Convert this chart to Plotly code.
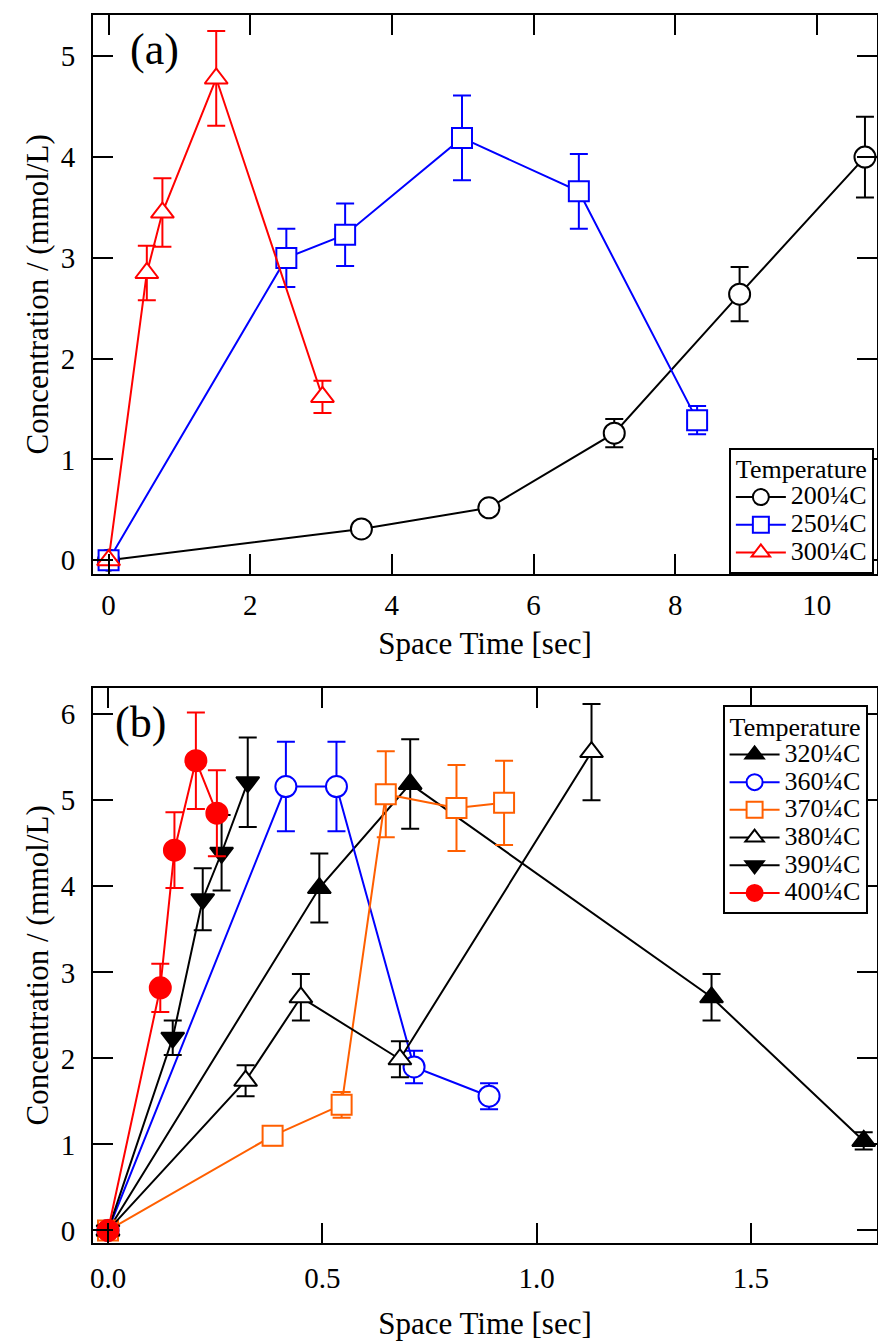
import plotly.graph_objects as go

# ---------------- data: panel (a) ----------------
x200 = [0.0, 3.57, 5.37, 7.14, 8.91, 10.68]
y200 = [0.0, 0.31, 0.52, 1.26, 2.64, 4.00]
e200 = [None, 0.03, 0.04, 0.14, 0.27, 0.40]

x250 = [0.0, 2.51, 3.34, 4.99, 6.64, 8.31]
y250 = [0.0, 3.00, 3.23, 4.19, 3.66, 1.39]
e250 = [None, 0.29, 0.31, 0.42, 0.37, 0.14]

x300 = [0.0, 0.54, 0.76, 1.52, 3.02]
y300 = [0.0, 2.85, 3.45, 4.78, 1.62]
e300 = [None, 0.27, 0.34, 0.47, 0.16]

# ---------------- data: panel (b) ----------------
x320 = [0.0, 0.493, 0.705, 1.408, 1.763]
y320 = [0.0, 3.98, 5.19, 2.71, 1.04]
e320 = [None, 0.40, 0.52, 0.27, 0.10]

x360 = [0.0, 0.415, 0.533, 0.714, 0.889]
y360 = [0.0, 5.16, 5.16, 1.90, 1.56]
e360 = [None, 0.52, 0.52, 0.19, 0.15]

x370 = [0.0, 0.384, 0.545, 0.648, 0.813, 0.924]
y370 = [0.0, 1.10, 1.46, 5.07, 4.91, 4.97]
e370 = [None, 0.11, 0.15, 0.50, 0.50, 0.49]

x380 = [0.0, 0.321, 0.450, 0.681, 1.128]
y380 = [0.0, 1.74, 2.71, 1.99, 5.56]
e380 = [None, 0.18, 0.27, 0.21, 0.56]

x390 = [0.0, 0.151, 0.221, 0.265, 0.326]
y390 = [0.0, 2.24, 3.85, 4.39, 5.21]
e390 = [None, 0.20, 0.36, 0.44, 0.52]

x400 = [0.0, 0.122, 0.155, 0.205, 0.254]
y400 = [0.0, 2.82, 4.42, 5.46, 4.85]
e400 = [None, 0.28, 0.44, 0.56, 0.50]

names_a = ["200\u00bcC", "250\u00bcC", "300\u00bcC"]
names_b = ["320\u00bcC", "360\u00bcC", "370\u00bcC", "380\u00bcC", "390\u00bcC", "400\u00bcC"]
legend_title = "Temperature"

FONT = "Liberation Serif"
ORANGE = "#FF5F00"
LEG_TXT = 26      # visible legend text size
LEG_ROW = 19      # font size used by plotly for legend row spacing


def big(s):
    return '<span style="font-size:%dpx">%s</span>' % (LEG_TXT, s)


series_a = [
    (x200, y200, e200, names_a[0], "circle", "black", "white", 21),
    (x250, y250, e250, names_a[1], "square", "blue", "white", 20),
    (x300, y300, e300, names_a[2], "triangle-up", "red", "white", 20),
]
series_b = [
    (x320, y320, e320, names_b[0], "triangle-up", "black", "black", 20),
    (x360, y360, e360, names_b[1], "circle", "blue", "white", 21),
    (x370, y370, e370, names_b[2], "square", ORANGE, "white", 20),
    (x380, y380, e380, names_b[3], "triangle-up", "black", "white", 20),
    (x390, y390, e390, names_b[4], "triangle-down", "black", "black", 20),
    (x400, y400, e400, names_b[5], "circle", "red", "red", 21),
]

fig = go.Figure()


def add(series, xa, ya, leg):
    for xs, ys, es, nm, sym, col, fill, sz in series:
        fig.add_trace(go.Scatter(
            x=xs, y=ys, name=big(nm), mode="lines+markers",
            xaxis=xa, yaxis=ya, legend=leg,
            line=dict(color=col, width=2),
            marker=dict(symbol=sym, size=sz, color=fill,
                        line=dict(color=col, width=2)),
            error_y=dict(type="data", array=es, visible=True,
                         color=col, thickness=2, width=9),
        ))


add(series_a, "x", "y", "legend")
add(series_b, "x2", "y2", "legend2")

axis_common = dict(
    showline=True, linecolor="black", linewidth=2, mirror="ticks",
    ticks="inside", ticklen=20, tickwidth=2, tickcolor="black",
    showgrid=False, zeroline=False, automargin=False,
    tickfont=dict(family=FONT, size=29, color="black"),
)

legend_common = dict(
    bgcolor="white", bordercolor="black", borderwidth=2,
    font=dict(family=FONT, size=LEG_ROW, color="black"),
    title=dict(text=big(legend_title), side="top center",
               font=dict(family=FONT, size=LEG_ROW + 3)),
    tracegroupgap=0, itemwidth=50,
)

fig.update_layout(
    width=878, height=1343,
    margin=dict(l=93, r=1, t=15, b=100),
    paper_bgcolor="white", plot_bgcolor="white",
    font=dict(family=FONT, size=26, color="black"),
    showlegend=True,
    xaxis=dict(domain=[0, 1], anchor="y", range=[-0.22, 10.85],
               tickvals=[0, 2, 4, 6, 8, 10], ticklabelstandoff=5,
               title=dict(text="Space Time [sec]", standoff=12,
                          font=dict(family=FONT, size=31)),
               **axis_common),
    yaxis=dict(domain=[0.5451, 1], anchor="x", range=[-0.133, 5.41],
               tickvals=[0, 1, 2, 3, 4, 5], ticklabelstandoff=10,
               title=dict(text="Concentration / (mmol/L)", standoff=3,
                          font=dict(family=FONT, size=31)),
               **axis_common),
    xaxis2=dict(domain=[0, 1], anchor="y2", range=[-0.035, 1.794],
                tickvals=[0, 0.5, 1.0, 1.5], ticktext=["0.0", "0.5", "1.0", "1.5"],
                ticklabelstandoff=8,
                title=dict(text="Space Time [sec]", standoff=20,
                           font=dict(family=FONT, size=31)),
                **axis_common),
    yaxis2=dict(domain=[0, 0.4523], anchor="x2", range=[-0.146, 6.31],
                tickvals=[0, 1, 2, 3, 4, 5, 6], ticklabelstandoff=10,
                title=dict(text="Concentration / (mmol/L)", standoff=3,
                           font=dict(family=FONT, size=31)),
                **axis_common),
    legend=dict(x=0.996, xanchor="right", y=0.5451, yanchor="bottom",
                **legend_common),
    legend2=dict(x=0.988, xanchor="right", y=0.4381, yanchor="top",
                 **legend_common),
    annotations=[
        dict(text="(a)", x=0.045, y=0.985, xref="x domain", yref="y domain",
             xanchor="left", yanchor="top", showarrow=False,
             font=dict(family=FONT, size=44)),
        dict(text="(b)", x=0.026, y=0.985, xref="x2 domain", yref="y2 domain",
             xanchor="left", yanchor="top", showarrow=False,
             font=dict(family=FONT, size=44)),
    ],
)

fig.write_html("out.html")
